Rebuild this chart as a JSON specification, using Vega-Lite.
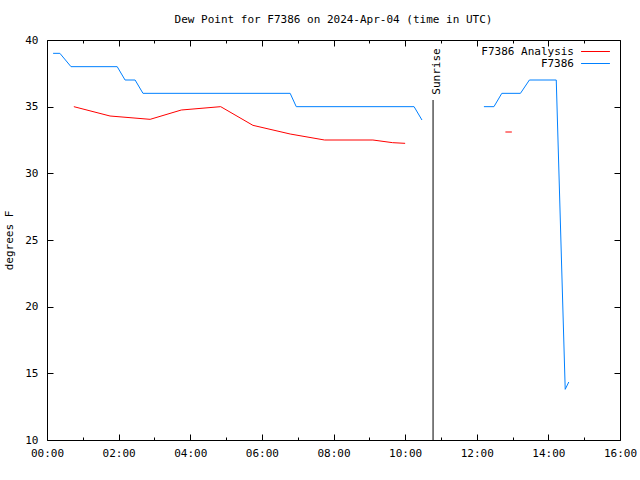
{
  "$schema": "https://vega.github.io/schema/vega-lite/v6.json",
  "autosize": "none",
  "width": 573,
  "height": 400,
  "padding": {"left": 47, "top": 40, "right": 20, "bottom": 40},
  "background": "white",
  "config": {
    "view": {"stroke": "black", "strokeWidth": 1},
    "font": "DejaVu Sans Mono",
    "axis": {"grid": false, "domain": false, "tickColor": "black", "labelColor": "black", "labelFont": "DejaVu Sans Mono", "labelFontSize": 11, "titleFont": "DejaVu Sans Mono", "titleFontSize": 11, "titleFontWeight": "normal", "titleColor": "black"}
  },
  "title": {"text": "Dew Point for F7386 on 2024-Apr-04 (time in UTC)", "font": "DejaVu Sans Mono", "fontSize": 11, "fontWeight": "normal", "color": "black", "anchor": "middle", "offset": 9},
  "datasets": {
    "obs": [
      {"t": 0.17, "v": 39, "series": "F7386", "seg": "b1"},
      {"t": 0.36, "v": 39, "series": "F7386", "seg": "b1"},
      {"t": 0.67, "v": 38, "series": "F7386", "seg": "b1"},
      {"t": 1.96, "v": 38, "series": "F7386", "seg": "b1"},
      {"t": 2.18, "v": 37, "series": "F7386", "seg": "b1"},
      {"t": 2.46, "v": 37, "series": "F7386", "seg": "b1"},
      {"t": 2.68, "v": 36, "series": "F7386", "seg": "b1"},
      {"t": 6.79, "v": 36, "series": "F7386", "seg": "b1"},
      {"t": 6.96, "v": 35, "series": "F7386", "seg": "b1"},
      {"t": 10.25, "v": 35, "series": "F7386", "seg": "b1"},
      {"t": 10.47, "v": 34, "series": "F7386", "seg": "b1"},
      {"t": 12.2, "v": 35, "series": "F7386", "seg": "b2"},
      {"t": 12.48, "v": 35, "series": "F7386", "seg": "b2"},
      {"t": 12.7, "v": 36, "series": "F7386", "seg": "b2"},
      {"t": 13.22, "v": 36, "series": "F7386", "seg": "b2"},
      {"t": 13.47, "v": 37, "series": "F7386", "seg": "b2"},
      {"t": 14.22, "v": 37, "series": "F7386", "seg": "b2"},
      {"t": 14.47, "v": 13.8, "series": "F7386", "seg": "b2"},
      {"t": 14.57, "v": 14.35, "series": "F7386", "seg": "b2"},
      {"t": 0.75, "v": 35.0, "series": "F7386 Analysis", "seg": "r1"},
      {"t": 1.76, "v": 34.3, "series": "F7386 Analysis", "seg": "r1"},
      {"t": 2.88, "v": 34.05, "series": "F7386 Analysis", "seg": "r1"},
      {"t": 3.75, "v": 34.75, "series": "F7386 Analysis", "seg": "r1"},
      {"t": 4.85, "v": 35.0, "series": "F7386 Analysis", "seg": "r1"},
      {"t": 5.75, "v": 33.6, "series": "F7386 Analysis", "seg": "r1"},
      {"t": 6.79, "v": 32.95, "series": "F7386 Analysis", "seg": "r1"},
      {"t": 7.75, "v": 32.5, "series": "F7386 Analysis", "seg": "r1"},
      {"t": 9.1, "v": 32.5, "series": "F7386 Analysis", "seg": "r1"},
      {"t": 9.65, "v": 32.3, "series": "F7386 Analysis", "seg": "r1"},
      {"t": 10.0, "v": 32.25, "series": "F7386 Analysis", "seg": "r1"},
      {"t": 12.8, "v": 33.1, "series": "F7386 Analysis", "seg": "r2"},
      {"t": 12.98, "v": 33.1, "series": "F7386 Analysis", "seg": "r2"}
    ],
    "sun": [{"t": 10.78, "y1": 10, "y2": 35.5, "ty": 35.9, "label": "Sunrise"}],
    "minor": [{"t": 1, "v": 10}, {"t": 3, "v": 10}, {"t": 5, "v": 10}, {"t": 7, "v": 10}, {"t": 9, "v": 10}, {"t": 11, "v": 10}, {"t": 13, "v": 10}, {"t": 15, "v": 10}]
  },
  "resolve": {"axis": {"x": "independent", "y": "independent"}},
  "layer": [
    {
      "data": {"name": "obs"},
      "mark": {"type": "line", "strokeWidth": 1, "interpolate": "linear"},
      "encoding": {
        "x": {"field": "t", "type": "quantitative", "scale": {"domain": [0, 16], "nice": false, "zero": false},
          "axis": {"title": null, "values": [0, 2, 4, 6, 8, 10, 12, 14, 16], "labelExpr": "(datum.value < 10 ? '0' : '') + datum.value + ':00'", "tickSize": -6, "labelPadding": 13, "labelFlush": false, "labelOverlap": false}},
        "y": {"field": "v", "type": "quantitative", "scale": {"domain": [10, 40], "nice": false, "zero": false},
          "axis": {"title": "degrees F", "values": [10, 15, 20, 25, 30, 35, 40], "tickSize": -6, "labelPadding": 15, "titlePadding": 10}},
        "color": {"field": "series", "type": "nominal", "scale": {"domain": ["F7386 Analysis", "F7386"], "range": ["#ff0000", "#0080ff"]},
          "legend": {"title": null, "orient": "none", "legendX": 543, "legendY": 6, "symbolType": "M-4,0H4", "symbolStrokeWidth": 1, "symbolSize": 52, "labelAlign": "right", "labelOffset": -27, "labelFontSize": 11, "labelFont": "DejaVu Sans Mono", "labelColor": "black", "rowPadding": 0,
            "encode": {"symbols": {"update": {"stroke": {"scale": "color", "field": "value"}, "fill": {"value": "transparent"}}}}}},
        "detail": {"field": "seg"}
      }
    },
    {
      "data": {"name": "obs"},
      "mark": {"type": "point", "opacity": 0},
      "encoding": {
        "x": {"field": "t", "type": "quantitative", "scale": {"domain": [0, 16], "nice": false, "zero": false},
          "axis": {"orient": "top", "title": null, "labels": false, "values": [0, 2, 4, 6, 8, 10, 12, 14, 16], "tickSize": -6}},
        "y": {"field": "v", "type": "quantitative", "scale": {"domain": [10, 40], "nice": false, "zero": false},
          "axis": {"orient": "right", "title": null, "labels": false, "values": [10, 15, 20, 25, 30, 35, 40], "tickSize": -6}}
      }
    },
    {
      "data": {"name": "minor"},
      "mark": {"type": "point", "opacity": 0},
      "encoding": {
        "x": {"field": "t", "type": "quantitative", "scale": {"domain": [0, 16], "nice": false, "zero": false},
          "axis": {"orient": "bottom", "title": null, "labels": false, "values": [1, 3, 5, 7, 9, 11, 13, 15], "tickSize": -3}}
      }
    },
    {
      "data": {"name": "minor"},
      "mark": {"type": "point", "opacity": 0},
      "encoding": {
        "x": {"field": "t", "type": "quantitative", "scale": {"domain": [0, 16], "nice": false, "zero": false},
          "axis": {"orient": "top", "title": null, "labels": false, "values": [1, 3, 5, 7, 9, 11, 13, 15], "tickSize": -3}}
      }
    },
    {
      "data": {"name": "sun"},
      "mark": {"type": "rule", "color": "black", "strokeWidth": 1},
      "encoding": {
        "x": {"field": "t", "type": "quantitative", "axis": null},
        "y": {"field": "y1", "type": "quantitative", "axis": null},
        "y2": {"field": "y2"}
      }
    },
    {
      "data": {"name": "sun"},
      "mark": {"type": "text", "angle": 270, "align": "left", "baseline": "middle", "dy": 4, "font": "DejaVu Sans Mono", "fontSize": 11, "color": "black"},
      "encoding": {
        "x": {"field": "t", "type": "quantitative", "axis": null},
        "y": {"field": "ty", "type": "quantitative", "axis": null},
        "text": {"field": "label"}
      }
    }
  ]
}
